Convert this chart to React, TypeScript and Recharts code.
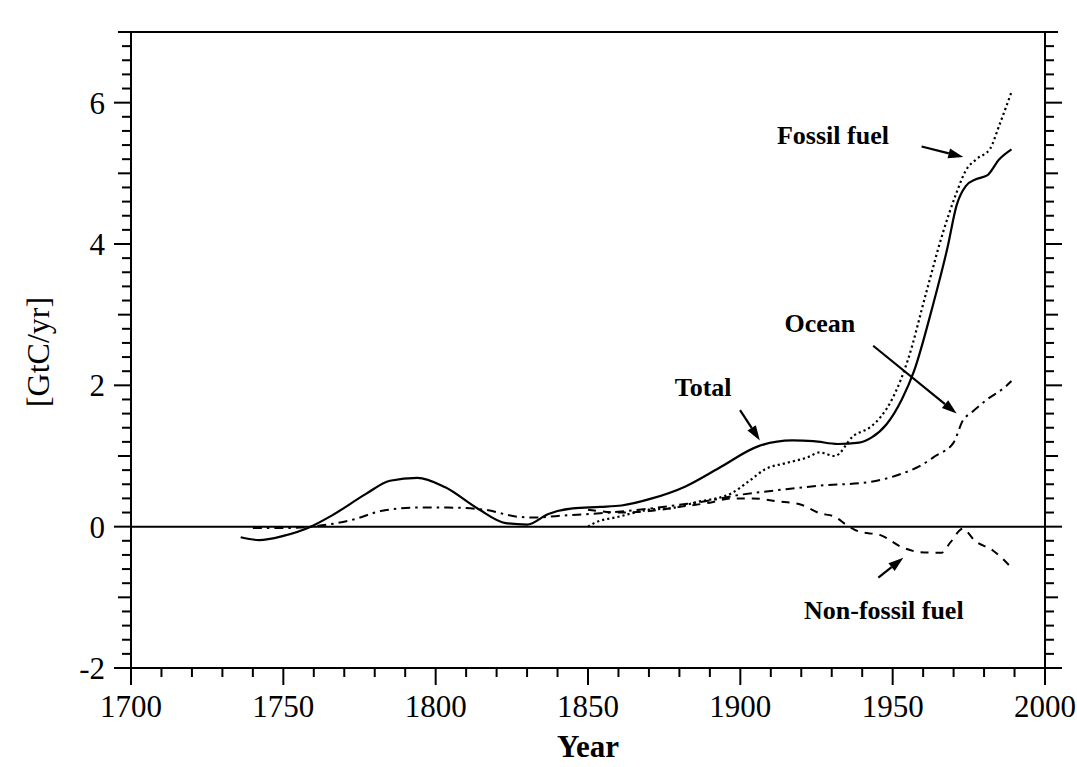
import {
  LineChart,
  Line,
  XAxis,
  YAxis,
  ReferenceLine,
  ReferenceDot,
} from "recharts";

const FONT = "'Liberation Serif', 'Times New Roman', serif";

// values (GtC/yr)
const totalYears = [1736, 1742, 1750, 1759, 1766, 1777, 1785, 1794, 1803, 1814, 1823, 1830, 1837, 1845, 1854, 1861, 1871, 1882, 1893, 1906, 1917, 1924, 1932, 1939, 1943, 1948, 1953, 1957, 1963, 1968, 1971, 1974, 1977.5, 1981, 1985, 1989];
const totalValues = [-0.15, -0.19, -0.13, 0.0, 0.16, 0.46, 0.65, 0.69, 0.56, 0.25, 0.05, 0.03, 0.18, 0.26, 0.28, 0.3, 0.4, 0.57, 0.83, 1.14, 1.22, 1.21, 1.17, 1.19, 1.26, 1.45, 1.8, 2.2, 3.1, 3.95, 4.55, 4.82, 4.92, 4.97, 5.2, 5.34];

const fossilYears = [1850, 1852, 1860, 1870, 1877, 1886, 1897, 1903, 1908, 1915, 1922, 1926, 1931, 1937, 1943, 1946, 1950, 1955, 1961, 1966.5, 1971, 1974, 1977.5, 1982, 1985, 1989];
const fossilValues = [0.0, 0.05, 0.14, 0.24, 0.26, 0.35, 0.47, 0.65, 0.81, 0.9, 0.98, 1.05, 1.0, 1.28, 1.42, 1.55, 1.82, 2.36, 3.31, 4.16, 4.73, 5.04, 5.2, 5.35, 5.68, 6.15];

const oceanYears = [1740, 1750, 1759, 1772, 1783, 1794, 1804, 1816, 1827, 1832, 1843, 1854, 1869, 1880, 1890, 1897, 1915, 1926, 1942, 1953, 1959, 1964, 1970, 1973, 1976, 1981, 1987, 1989];
const oceanValues = [-0.02, -0.02, 0.0, 0.09, 0.23, 0.27, 0.27, 0.24, 0.14, 0.13, 0.16, 0.19, 0.25, 0.31, 0.37, 0.43, 0.53, 0.58, 0.63, 0.75, 0.86, 1.0, 1.19, 1.5, 1.62, 1.8, 1.98, 2.06];

const nonFossilYears = [1850, 1860, 1870, 1880, 1890, 1897, 1904, 1912, 1920, 1926, 1931, 1935, 1939, 1946, 1953, 1959, 1966, 1969, 1973, 1977, 1983, 1989];
const nonFossilValues = [0.24, 0.2, 0.22, 0.28, 0.34, 0.4, 0.4, 0.36, 0.31, 0.19, 0.14, 0.02, -0.07, -0.12, -0.29, -0.36, -0.37, -0.22, -0.03, -0.2, -0.34, -0.58];

const xMajorTicks = [1700, 1750, 1800, 1850, 1900, 1950, 2000];
const yMajorTicks = [-2, 0, 2, 4, 6];
const X_DOMAIN = [1700, 2000];
const Y_DOMAIN = [-2, 7];

// annotations: label centre and arrow (from -> to), in data units
const annotations = [
  { text: "Fossil fuel", x: 1930.4, y: 5.55, from: [1959.5, 5.38], to: [1973.2, 5.23] },
  { text: "Ocean", x: 1926.1, y: 2.88, from: [1943.6, 2.56], to: [1971.0, 1.6] },
  { text: "Total", x: 1887.8, y: 1.98, from: [1899.9, 1.65], to: [1906.4, 1.22] },
  { text: "Non-fossil fuel", x: 1947.1, y: -1.18, from: [1945.3, -0.72], to: [1953.5, -0.44] },
];

const toPoints = (years: number[], values: number[]) =>
  years.map((year, i) => ({ year, value: values[i] }));

const totalData = toPoints(totalYears, totalValues);
const fossilData = toPoints(fossilYears, fossilValues);
const oceanData = toPoints(oceanYears, oceanValues);
const nonFossilData = toPoints(nonFossilYears, nonFossilValues);

const xTicks: number[] = [];
for (let v = 1700; v <= 2000; v += 10) xTicks.push(v);
const yTicks: number[] = [];
for (let k = 0; k <= 45; k++) yTicks.push(Math.round((-2 + k * 0.2) * 10) / 10);

const isMajorX = (v: number) => xMajorTicks.includes(v);
const isMajorY = (v: number) => yMajorTicks.includes(v);
const isOddY = (v: number) => Number.isInteger(v) && !isMajorY(v);
const yLen = (v: number) => (isMajorY(v) ? 17 : isOddY(v) ? 13 : 9);

const tickText = { fontFamily: FONT, fontSize: 31, fill: "#000" };

function BottomTick({ x, y, payload }: any) {
  const v = payload.value;
  const len = isMajorX(v) ? 17 : 9;
  return (
    <g>
      <line x1={x} y1={y} x2={x} y2={y + len} stroke="#000" strokeWidth={2} />
      {isMajorX(v) && (
        <text x={x} y={y + len + 10} dy="0.71em" textAnchor="middle" {...tickText}>
          {v}
        </text>
      )}
    </g>
  );
}

function TopTick({ x, y, payload }: any) {
  const len = isMajorX(payload.value) ? 17 : 9;
  return <line x1={x} y1={y} x2={x} y2={y - len} stroke="#000" strokeWidth={2} />;
}

function LeftTick({ x, y, payload }: any) {
  const v = payload.value;
  const len = yLen(v);
  return (
    <g>
      <line x1={x - len} y1={y} x2={x} y2={y} stroke="#000" strokeWidth={2} />
      {isMajorY(v) && (
        <text x={x - len - 9} y={y} dy="0.35em" textAnchor="end" {...tickText}>
          {v}
        </text>
      )}
    </g>
  );
}

function RightTick({ x, y, payload }: any) {
  const len = yLen(payload.value);
  return <line x1={x} y1={y} x2={x + len} y2={y} stroke="#000" strokeWidth={2} />;
}

function Arrow({ x1, y1, x2, y2 }: any) {
  const a = Math.atan2(y2 - y1, x2 - x1);
  const L = 15;
  const W = 5;
  const bx = x2 - L * Math.cos(a);
  const by = y2 - L * Math.sin(a);
  const pts = `${x2},${y2} ${bx + W * Math.sin(a)},${by - W * Math.cos(a)} ${bx - W * Math.sin(a)},${by + W * Math.cos(a)}`;
  return (
    <g>
      <line x1={x1} y1={y1} x2={bx} y2={by} stroke="#000" strokeWidth={2.2} />
      <polygon points={pts} fill="#000" />
    </g>
  );
}

const axisLine = { stroke: "#000", strokeWidth: 2 };

export default function App() {
  return (
    <div style={{ position: "absolute", left: 0, top: 0, width: 1077, height: 767, background: "#fff" }}>
      <LineChart
        width={1077}
        height={767}
        margin={{ top: 31, right: 31, bottom: 98, left: 130 }}
      >
        <XAxis
          xAxisId="x"
          dataKey="year"
          type="number"
          domain={X_DOMAIN}
          allowDataOverflow
          ticks={xTicks}
          interval={0}
          height={1}
          tickSize={0}
          tickMargin={0}
          tickLine={false}
          tick={<BottomTick />}
          axisLine={axisLine}
          label={{
            content: ({ viewBox }: any) => (
              <text
                x={viewBox.x + viewBox.width / 2}
                y={viewBox.y + 89}
                textAnchor="middle"
                fontFamily={FONT}
                fontSize={31}
                fontWeight="bold"
              >
                Year
              </text>
            ),
          }}
        />
        <XAxis
          xAxisId="top"
          orientation="top"
          type="number"
          domain={X_DOMAIN}
          allowDataOverflow
          ticks={xTicks}
          interval={0}
          height={1}
          tickSize={0}
          tickMargin={0}
          tickLine={false}
          tick={<TopTick />}
          axisLine={axisLine}
        />
        <YAxis
          yAxisId="y"
          type="number"
          domain={Y_DOMAIN}
          allowDataOverflow
          ticks={yTicks}
          interval={0}
          width={1}
          tickSize={0}
          tickMargin={0}
          tickLine={false}
          tick={<LeftTick />}
          axisLine={axisLine}
          label={{
            content: ({ viewBox }: any) => {
              const cy = viewBox.y + viewBox.height / 2 + 2;
              return (
                <text
                  x={38}
                  y={cy}
                  transform={`rotate(-90, 38, ${cy})`}
                  textAnchor="middle"
                  dy="0.35em"
                  fontFamily={FONT}
                  fontSize={32}
                >
                  [GtC/yr]
                </text>
              );
            },
          }}
        />
        <YAxis
          yAxisId="right"
          orientation="right"
          type="number"
          domain={Y_DOMAIN}
          allowDataOverflow
          ticks={yTicks}
          interval={0}
          width={1}
          tickSize={0}
          tickMargin={0}
          tickLine={false}
          tick={<RightTick />}
          axisLine={axisLine}
        />

        <ReferenceLine xAxisId="x" yAxisId="y" y={0} stroke="#000" strokeWidth={2} />

        <Line xAxisId="x" yAxisId="y" data={oceanData} dataKey="value" type="monotone" stroke="#000" strokeWidth={2} strokeDasharray="9 5 2.5 5" dot={false} isAnimationActive={false} />
        <Line xAxisId="x" yAxisId="y" data={nonFossilData} dataKey="value" type="monotone" stroke="#000" strokeWidth={2} strokeDasharray="8 7" dot={false} isAnimationActive={false} />
        <Line xAxisId="x" yAxisId="y" data={fossilData} dataKey="value" type="monotone" stroke="#000" strokeWidth={2.2} strokeDasharray="2.2 3" dot={false} isAnimationActive={false} />
        <Line xAxisId="x" yAxisId="y" data={totalData} dataKey="value" type="monotone" stroke="#000" strokeWidth={2.2} dot={false} isAnimationActive={false} />

        {annotations.map((a) => (
          <ReferenceLine
            key={`arrow-${a.text}`}
            xAxisId="x"
            yAxisId="y"
            segment={[
              { x: a.from[0], y: a.from[1] },
              { x: a.to[0], y: a.to[1] },
            ]}
            shape={(p: any) => <Arrow {...p} />}
          />
        ))}
        {annotations.map((a) => (
          <ReferenceDot
            key={`label-${a.text}`}
            xAxisId="x"
            yAxisId="y"
            x={a.x}
            y={a.y}
            r={0}
            shape={(p: any) => (
              <text
                x={p.cx}
                y={p.cy}
                dy="0.35em"
                textAnchor="middle"
                fontFamily={FONT}
                fontSize={26}
                fontWeight="bold"
              >
                {a.text}
              </text>
            )}
          />
        ))}
      </LineChart>
    </div>
  );
}
